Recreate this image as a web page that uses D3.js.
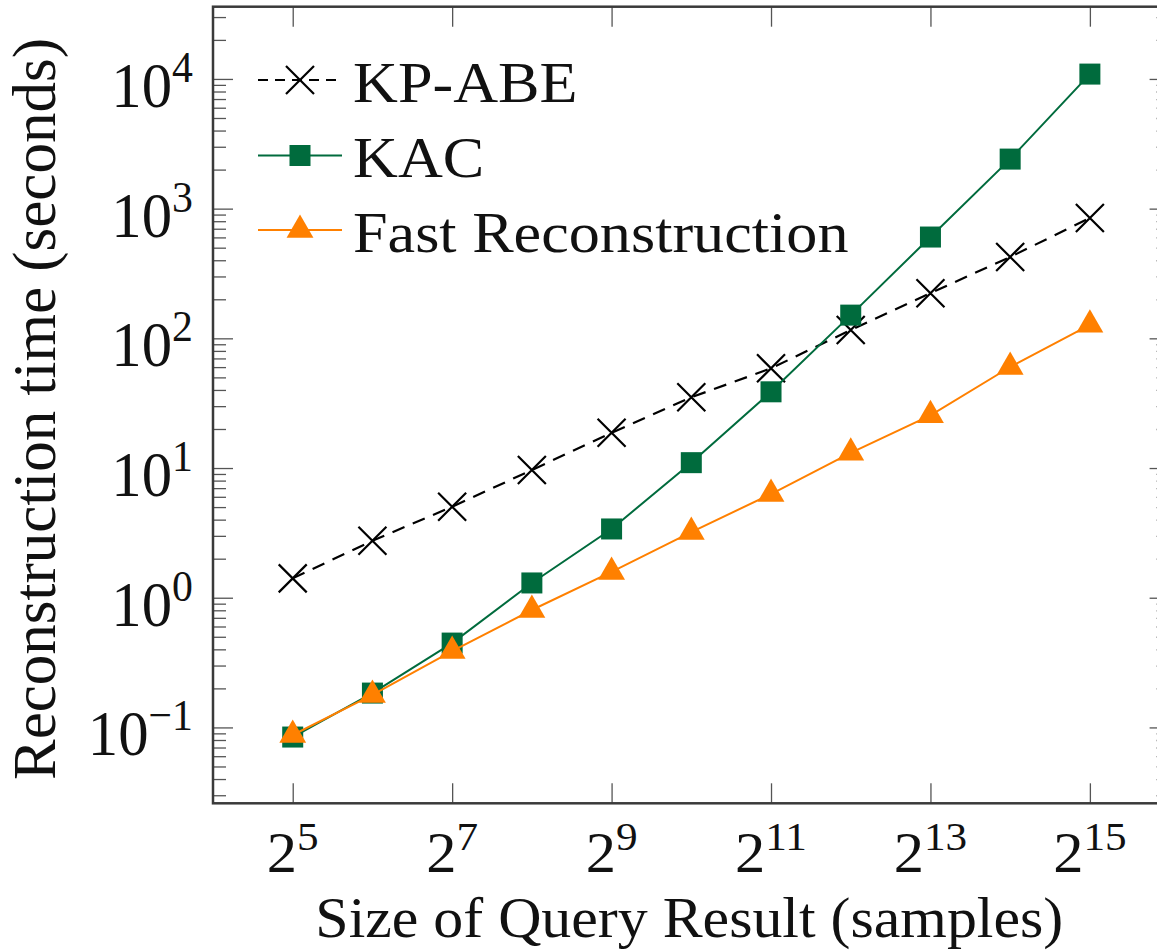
<!DOCTYPE html>
<html>
<head>
<meta charset="utf-8">
<script src="https://cdn.jsdelivr.net/npm/d3@7"></script>
<style>
  body { margin: 0; background: #fff; }
  svg { display: block; font-family: "Liberation Serif", "DejaVu Serif", serif; }
</style>
</head>
<body>
<div id="chart"></div>
<script>
// Datos
const querySizes = [32, 64, 128, 256, 512, 1024, 2048, 4096, 8192, 16384, 32768];
const kpAbe = [1.41, 2.75, 5.03, 9.66, 18.7, 35.1, 58.7, 116, 223, 424, 847];
const kac = [0.0843, 0.184, 0.447, 1.30, 3.39, 11.0, 38.7, 151, 604, 2410, 10900];
const fastRec = [0.0874, 0.178, 0.388, 0.804, 1.58, 3.21, 6.30, 13.1, 25.5, 60.1, 127];

const seriesNames = ["KP-ABE", "KAC", "Fast Reconstruction"];
const xTickExps = [5, 7, 9, 11, 13, 15];
const yTickExps = [-1, 0, 1, 2, 3, 4];

// Tamaño del lienzo y del marco
const width = 1157;
const height = 951;
const plotLeft = 213, plotRight = 1169.6, plotTop = 6.7, plotBottom = 803.3;

const svg = d3.select("#chart").append("svg")
  .attr("width", width)
  .attr("height", height);

const x = d3.scaleLog().base(2).domain([16, 65536]).range([plotLeft, plotRight]);
const y = d3.scaleLog().domain([Math.pow(10, -1.585), Math.pow(10, 4.557)]).range([plotBottom, plotTop]);

const green = "#006B3D";
const orange = "#FF8000";

// Ticks (hacia dentro, como pgfplots)
const majorY = yTickExps.map(e => Math.pow(10, e));
const minorY = [];
for (let e = -2; e <= 4; e++) {
  for (let m = 2; m <= 9; m++) {
    const v = m * Math.pow(10, e);
    if (v > y.domain()[0] && v < y.domain()[1]) minorY.push(v);
  }
}
const majorX = xTickExps.map(e => Math.pow(2, e));

function drawAxis(axis, tx, ty) {
  const g = svg.append("g").attr("transform", `translate(${tx},${ty})`).call(axis);
  g.select(".domain").remove();
  g.selectAll("text").remove();
  g.selectAll("line").attr("stroke", "#555").attr("stroke-width", 1.3);
}
drawAxis(d3.axisLeft(y).tickValues(majorY).tickSize(-20), plotLeft, 0);
drawAxis(d3.axisLeft(y).tickValues(minorY).tickSize(-13), plotLeft, 0);
drawAxis(d3.axisRight(y).tickValues(majorY).tickSize(-20), plotRight, 0);
drawAxis(d3.axisRight(y).tickValues(minorY).tickSize(-13), plotRight, 0);
drawAxis(d3.axisBottom(x).tickValues(majorX).tickSize(-20), 0, plotBottom);
drawAxis(d3.axisTop(x).tickValues(majorX).tickSize(-20), 0, plotTop);

// Marco
svg.append("rect")
  .attr("x", plotLeft).attr("y", plotTop)
  .attr("width", plotRight - plotLeft).attr("height", plotBottom - plotTop)
  .attr("fill", "none")
  .attr("stroke", "#3a3a3a")
  .attr("stroke-width", 2.5);

// Etiquetas de los ejes con superíndice
yTickExps.forEach(e => {
  const t = svg.append("text")
    .attr("transform", `translate(193,${y(Math.pow(10, e)) + 28}) scale(0.95,1)`)
    .attr("text-anchor", "end")
    .attr("font-size", 64)
    .attr("fill", "#111");
  t.append("tspan").text("10");
  t.append("tspan").attr("dy", -25).attr("font-size", 44).text(e < 0 ? "\u2212" + (-e) : e);
});

xTickExps.forEach(e => {
  const t = svg.append("text")
    .attr("transform", `translate(${x(Math.pow(2, e))},872) scale(1.08,1)`)
    .attr("text-anchor", "middle")
    .attr("font-size", 56)
    .attr("fill", "#111");
  t.append("tspan").text("2");
  t.append("tspan").attr("dy", -22).attr("font-size", 40).text(e);
});

svg.append("text")
  .attr("transform", `translate(${(plotLeft + plotRight) / 2 - 2},937) scale(1.05,1)`)
  .attr("text-anchor", "middle")
  .attr("font-size", 57)
  .attr("fill", "#111")
  .text("Size of Query Result (samples)");

svg.append("text")
  .attr("transform", `translate(55,${(plotTop + plotBottom) / 2 + 4}) rotate(-90)`)
  .attr("text-anchor", "middle")
  .attr("font-size", 61)
  .attr("fill", "#111")
  .text("Reconstruction time (seconds)");

// Marcadores
function crossMarker(g, cx, cy) {
  g.append("path")
    .attr("d", `M${cx - 14},${cy - 14}L${cx + 14},${cy + 14}M${cx - 14},${cy + 14}L${cx + 14},${cy - 14}`)
    .attr("stroke", "#000").attr("stroke-width", 2.2).attr("fill", "none");
}
function squareMarker(g, cx, cy) {
  g.append("rect")
    .attr("x", cx - 10.5).attr("y", cy - 10.5)
    .attr("width", 21).attr("height", 21)
    .attr("fill", green);
}
function triangleMarker(g, cx, cy) {
  const r = 15.5;
  g.append("path")
    .attr("d", `M${cx},${cy - r}L${cx + 0.866 * r},${cy + r / 2}L${cx - 0.866 * r},${cy + r / 2}Z`)
    .attr("fill", orange);
}

const series = [
  { name: seriesNames[0], values: kpAbe, color: "#000", width: 2.2, dash: "13,9", marker: crossMarker },
  { name: seriesNames[1], values: kac, color: green, width: 2, dash: null, marker: squareMarker },
  { name: seriesNames[2], values: fastRec, color: orange, width: 2, dash: null, marker: triangleMarker }
];

const line = d3.line().x(d => x(d[0])).y(d => y(d[1]));

series.forEach(s => {
  const pts = querySizes.map((q, i) => [q, s.values[i]]);
  const g = svg.append("g");
  g.append("path")
    .attr("d", line(pts))
    .attr("fill", "none")
    .attr("stroke", s.color)
    .attr("stroke-width", s.width)
    .attr("stroke-dasharray", s.dash);
  pts.forEach(p => s.marker(g, x(p[0]), y(p[1])));
});

// Leyenda
const legendRows = [80, 155.5, 230];
series.forEach((s, i) => {
  const cy = legendRows[i];
  const g = svg.append("g");
  g.append("line")
    .attr("x1", 258).attr("x2", 342)
    .attr("y1", cy).attr("y2", cy)
    .attr("stroke", s.color)
    .attr("stroke-width", s.width)
    .attr("stroke-dasharray", s.dash ? "10,7" : null);
  s.marker(g, 300, cy);
  g.append("text")
    .attr("transform", `translate(353,${cy + 21.5}) scale(1.11,1)`)
    .attr("font-size", 56)
    .attr("fill", "#111")
    .text(s.name);
});
</script>
</body>
</html>
